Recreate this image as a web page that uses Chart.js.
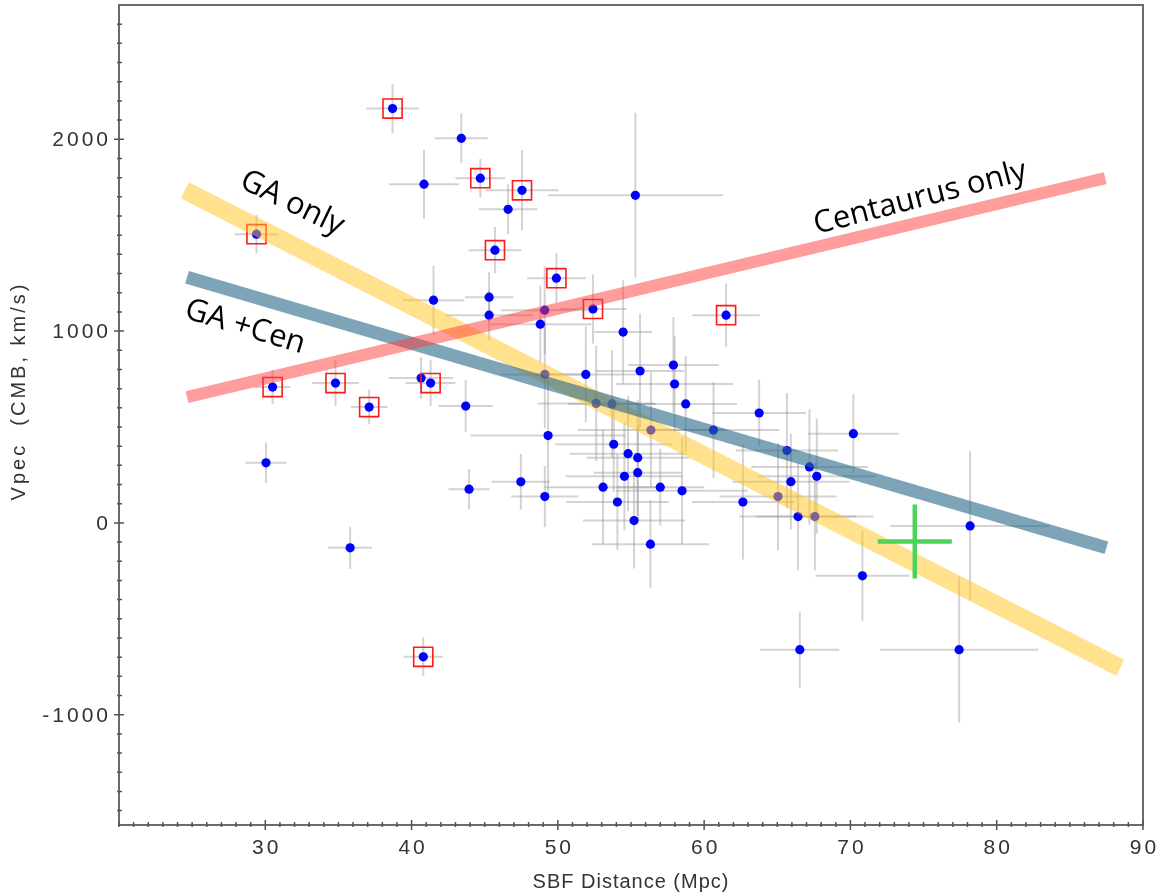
<!DOCTYPE html>
<html>
<head>
<meta charset="utf-8">
<title>Vpec vs SBF distance</title>
<script src="https://cdn.jsdelivr.net/npm/chart.js@4.4.1/dist/chart.umd.min.js"></script>
<style>
  html, body { margin: 0; padding: 0; background: #fff; }
  #wrap { width: 1161px; height: 896px; }
</style>
</head>
<body>
<div id="wrap"><canvas id="sbfChart" width="1161" height="896"></canvas></div>
<script>
// galaxies: SBF distance (Mpc), CMB-frame peculiar velocity (km/s) and their errors
var distMpc = [38.7, 43.4, 40.85, 44.7, 47.55, 46.6, 55.3, 29.4, 45.7, 49.9,
               52.4, 61.5, 41.5, 45.3, 45.3, 49.1, 48.8, 54.46, 55.62, 57.9,
               57.98, 51.91, 49.11, 58.74, 63.76, 60.64, 56.36, 52.62, 53.7, 49.33,
               53.82, 54.8, 55.46, 54.55, 55.46, 53.09, 54.07, 57.0, 58.49, 47.47,
               49.11, 43.93, 55.21, 56.33, 62.65, 65.05, 65.93, 65.66, 67.2, 67.7,
               70.2, 66.42, 67.57, 78.18, 70.82, 66.54, 77.43, 40.8, 30.05, 35.8,
               43.7, 40.65, 30.5, 34.8, 37.1, 41.3];
var vpec = [2160, 2005, 1766, 1797, 1734, 1635, 1708, 1505, 1422, 1276,
            1115, 1083, 1161, 1177, 1083, 1109, 1036, 995, 792, 823,
            724, 774, 774, 620, 573, 484, 484, 623, 620, 455,
            410, 361, 340, 243, 262, 186, 109, 186, 167, 214,
            137, 176, 12, -111, 109, 137, 215, 377, 292, 243,
            465, 33, 33, -16, -276, -661, -661, -698, 313, -130,
            609, 755, 708, 729, 604, 729];
var distErr = [1.8, 1.8, 2.4, 1.7, 2.5, 2.0, 6.0, 1.5, 1.8, 2.0,
               2.3, 2.3, 2.1, 1.65, 3.0, 3.0, 3.5, 2.0, 3.0, 3.1,
               4.0, 3.5, 3.0, 3.5, 3.2, 4.5, 5.0, 4.0, 3.0, 5.3,
               4.0, 4.0, 3.5, 4.0, 3.0, 4.0, 3.5, 3.0, 4.5, 2.0,
               2.3, 1.4, 3.5, 4.0, 3.5, 4.0, 4.0, 3.5, 4.0, 4.0,
               3.1, 4.0, 4.0, 5.45, 3.2, 2.7, 5.4, 1.35, 1.4, 1.5,
               1.85, 2.2, 1.2, 1.6, 1.25, 1.7];
var vpecErr = [130, 130, 180, 100, 210, 130, 430, 100, 120, 130,
               180, 165, 180, 130, 130, 230, 200, 270, 300, 250,
               250, 250, 280, 250, 174, 250, 300, 300, 280, 300,
               250, 300, 300, 280, 250, 300, 250, 200, 280, 145,
               160, 105, 250, 230, 300, 280, 250, 300, 300, 300,
               206, 280, 280, 390, 234, 198, 380, 100, 105, 110,
               135, 110, 90, 120, 90, 120];
// galaxies marked with a red square (indices into the arrays above)
var flagged = [0, 3, 4, 7, 8, 9, 10, 11, 57, 62, 63, 64, 65];

// model predictions, band end points
var gaOnlyDist = [24.5, 88.45];
var gaOnlyVel = [1734, -755];
var gaCenDist = [24.65, 87.5];
var gaCenVel = [1281, -130];
var cenOnlyDist = [24.65, 87.42];
var cenOnlyVel = [656, 1797];

// green cross marker
var crossDist = [74.4];
var crossVel = [-97];

// labelled ticks
var xLabels = [30, 40, 50, 60, 70, 80, 90];
var yLabels = [-1000, 0, 1000, 2000];

// band captions
var captions = [
  { text: 'GA only', x: 31.83, y: 1667, angle: 26 },
  { text: 'GA +Cen', x: 28.62, y: 1021, angle: 17 },
  { text: 'Centaurus only', x: 74.77, y: 1693, angle: -14.5 }
];

function pairs(xs, ys) {
  return xs.map(function(x, i) { return { x: x, y: ys[i] }; });
}

var sbfPlugin = {
  id: 'sbfPlugin',
  beforeDatasetsDraw: function(chart) {
    var ctx = chart.ctx, xs = chart.scales.x, ys = chart.scales.y;
    ctx.save();
    ctx.strokeStyle = 'rgba(150,150,150,0.42)';
    ctx.lineWidth = 2;
    for (var i = 0; i < distMpc.length; i++) {
      var px = xs.getPixelForValue(distMpc[i]);
      var py = ys.getPixelForValue(vpec[i]);
      ctx.beginPath();
      ctx.moveTo(xs.getPixelForValue(distMpc[i] - distErr[i]), py);
      ctx.lineTo(xs.getPixelForValue(distMpc[i] + distErr[i]), py);
      ctx.moveTo(px, ys.getPixelForValue(vpec[i] - vpecErr[i]));
      ctx.lineTo(px, ys.getPixelForValue(vpec[i] + vpecErr[i]));
      ctx.stroke();
    }
    ctx.restore();
  },
  afterDraw: function(chart) {
    var ctx = chart.ctx, area = chart.chartArea;
    var xs = chart.scales.x, ys = chart.scales.y;
    ctx.save();

    // frame
    ctx.strokeStyle = '#6b6b6b';
    ctx.lineWidth = 2;
    ctx.strokeRect(area.left, area.top, area.right - area.left, area.bottom - area.top);

    // tick marks crossing the axes
    ctx.strokeStyle = '#555';
    ctx.lineWidth = 1.5;
    ctx.beginPath();
    xs.ticks.forEach(function(t) {
      var px = xs.getPixelForValue(t.value);
      var major = xLabels.indexOf(t.value) >= 0;
      ctx.moveTo(px, area.bottom - (major ? 5 : 3));
      ctx.lineTo(px, area.bottom + (major ? 5 : 2));
    });
    ys.ticks.forEach(function(t) {
      var py = ys.getPixelForValue(t.value);
      var major = yLabels.indexOf(t.value) >= 0;
      ctx.moveTo(area.left - (major ? 5 : 2), py);
      ctx.lineTo(area.left + (major ? 5 : 3), py);
    });
    ctx.stroke();

    // tick labels, slightly letter-spaced
    ctx.fillStyle = '#333';
    ctx.font = '21px "Liberation Sans", Arial, sans-serif';
    ctx.letterSpacing = '3px';
    ctx.textBaseline = 'middle';
    ctx.textAlign = 'center';
    xLabels.forEach(function(v) {
      ctx.fillText(String(v), xs.getPixelForValue(v) + 1.5, area.bottom + 23);
    });
    ctx.textAlign = 'right';
    yLabels.forEach(function(v) {
      ctx.fillText(String(v), area.left - 8, ys.getPixelForValue(v) + 1);
    });

    // axis titles
    ctx.font = '20px "Liberation Sans", Arial, sans-serif';
    ctx.letterSpacing = '1px';
    ctx.textAlign = 'center';
    ctx.fillText('SBF Distance (Mpc)', (area.left + area.right) / 2, 882);
    ctx.save();
    ctx.translate(19, 391);
    ctx.rotate(-Math.PI / 2);
    ctx.letterSpacing = '3px';
    ctx.fillText('Vpec  (CMB, km/s)', 0, 0);
    ctx.restore();

    // band captions
    ctx.fillStyle = '#000';
    ctx.letterSpacing = '0px';
    ctx.font = '31px "Open Sans", sans-serif';
    captions.forEach(function(c) {
      ctx.save();
      ctx.translate(xs.getPixelForValue(c.x), ys.getPixelForValue(c.y));
      ctx.rotate(c.angle * Math.PI / 180);
      ctx.fillText(c.text, 0, 0);
      ctx.restore();
    });
    ctx.restore();
  }
};

function bandDataset(dist, vel, colour, width, order) {
  return {
    type: 'line',
    data: pairs(dist, vel),
    borderColor: colour,
    borderWidth: width,
    borderCapStyle: 'butt',
    pointRadius: 0,
    fill: false,
    order: order
  };
}

var sbfChart = new Chart(document.getElementById('sbfChart').getContext('2d'), {
  type: 'scatter',
  data: {
    datasets: [
      {
        data: pairs(distMpc, vpec),
        pointRadius: 4.6,
        pointBackgroundColor: '#0000ff',
        pointBorderWidth: 0,
        order: 5
      },
      {
        data: flagged.map(function(i) { return { x: distMpc[i], y: vpec[i] }; }),
        pointStyle: 'rect',
        pointRadius: 13.5,
        pointBackgroundColor: 'rgba(0,0,0,0)',
        pointBorderColor: '#ff1a1a',
        pointBorderWidth: 1.6,
        order: 4
      },
      bandDataset(gaOnlyDist, gaOnlyVel, 'rgba(255,195,30,0.5)', 18, 3),
      bandDataset(gaCenDist, gaCenVel, 'rgba(40,105,135,0.6)', 13, 2),
      bandDataset(cenOnlyDist, cenOnlyVel, 'rgba(255,60,60,0.5)', 12, 1),
      {
        data: pairs(crossDist, crossVel),
        pointStyle: 'cross',
        pointRadius: 37,
        pointBorderColor: 'rgb(76,211,90)',
        pointBorderWidth: 4.5,
        order: 0
      }
    ]
  },
  options: {
    responsive: false,
    animation: false,
    devicePixelRatio: 1,
    events: [],
    layout: { autoPadding: false, padding: { left: 0, right: 18, top: 5, bottom: 0 } },
    plugins: { legend: { display: false }, tooltip: { enabled: false } },
    scales: {
      x: {
        type: 'linear',
        min: 20,
        max: 90,
        afterFit: function(s) { s.height = 71; },
        afterBuildTicks: function(s) {
          var t = [];
          for (var v = 20; v <= 90; v++) t.push({ value: v });
          s.ticks = t;
        },
        grid: { display: false },
        border: { display: false },
        ticks: { display: false }
      },
      y: {
        type: 'linear',
        min: -1575,
        max: 2700,
        afterFit: function(s) { s.width = 119; },
        afterBuildTicks: function(s) {
          var t = [];
          for (var v = -1500; v <= 2600; v += 100) t.push({ value: v });
          s.ticks = t;
        },
        grid: { display: false },
        border: { display: false },
        ticks: { display: false }
      }
    }
  },
  plugins: [sbfPlugin]
});
</script>
</body>
</html>
